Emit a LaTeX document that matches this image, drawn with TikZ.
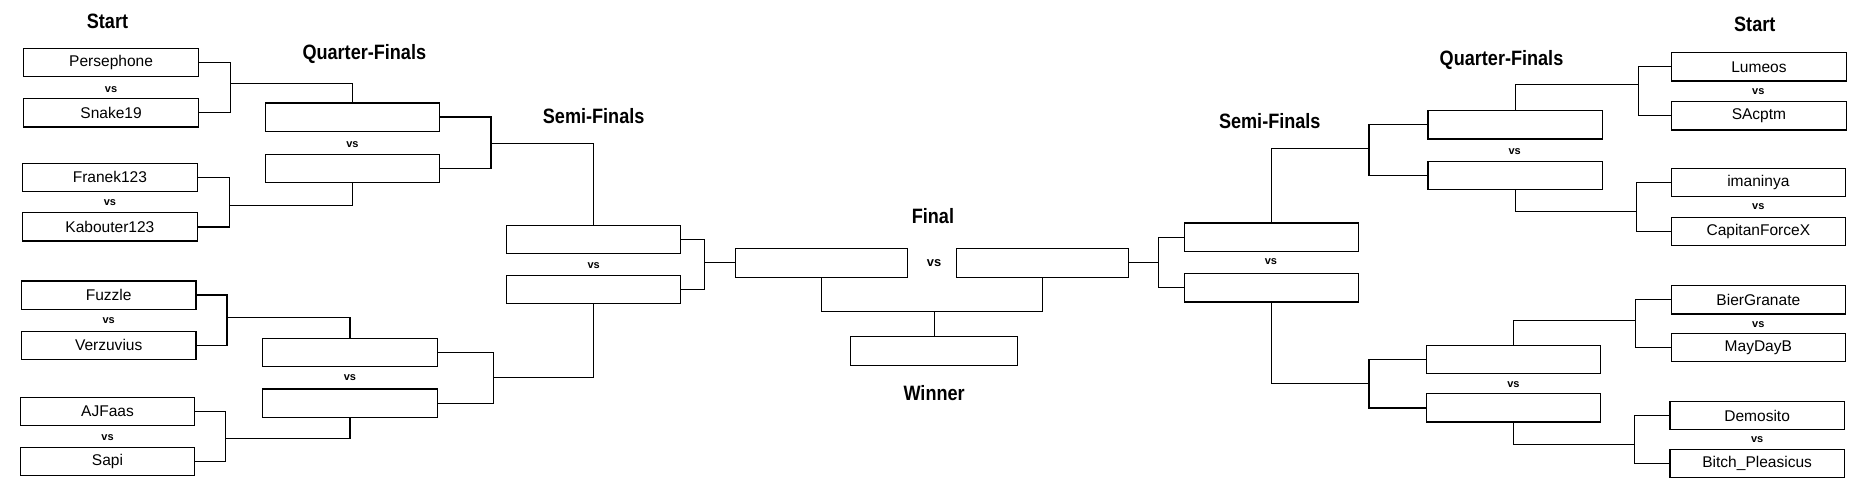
\documentclass[tikz,border=0pt]{standalone}
\usepackage{fontspec}
\setmainfont{Liberation Sans}
\newfontfamily\headfont[FakeStretch=0.87]{Liberation Sans}
\begin{document}
\begin{tikzpicture}[x=0.5pt,y=-0.5pt,
  every path/.style={line width=0.5pt},
  tbox/.style={draw,line width=0.5pt,minimum width=73pt,minimum height=11.8pt,inner sep=0pt,font=\fontsize{6.5}{7}\selectfont},
  fbox/.style={tbox,minimum width=72pt,minimum height=12pt},
  vslab/.style={font=\bfseries\fontsize{4.6}{5}\selectfont,inner sep=0pt},
  head/.style={font=\headfont\bfseries\fontsize{8.7}{9}\selectfont,inner sep=0pt},
  conn/.style={draw,line width=0.5pt}]
\useasboundingbox (0,0) rectangle (1568,408);
% headings
\node[head] (hstartL) at (90,18) {Start};
\node[head] (hqfL) at (305,45) {Quarter-Finals};
\node[head] (hsfL) at (497,97) {Semi-Finals};
\node[head] (hfin) at (781,181) {Final};
\node[head] (hwin) at (782,329) {Winner};
\node[head] (hsfR) at (1063,101) {Semi-Finals};
\node[head] (hqfR) at (1257,50) {Quarter-Finals};
\node[head] (hstartR) at (1469,20) {Start};
% left start
\node[tbox] (l1) at (93,52.5) {Persephone};
\node[tbox] (l2) at (93,94.5) {Snake19};
\node[tbox] (l3) at (92,148.5) {Franek123};
\node[tbox] (l4) at (92,190) {Kabouter123};
\node[tbox] (l5) at (91,247) {Fuzzle};
\node[tbox] (l6) at (91,289) {Verzuvius};
\node[tbox] (l7) at (90,344.5) {AJFaas};
\node[tbox] (l8) at (90,386.5) {Sapi};
\node[vslab] (vl1) at (93,75) {vs};
\node[vslab] (vl2) at (92,170) {vs};
\node[vslab] (vl3) at (91,268) {vs};
\node[vslab] (vl4) at (90,366) {vs};
% left QF
\node[tbox] (q1) at (295,98) {};
\node[tbox] (q2) at (295,141) {};
\node[tbox] (q3) at (293,295) {};
\node[tbox] (q4) at (293,337.5) {};
\node[vslab] (vq1) at (295,121) {vs};
\node[vslab] (vq2) at (293,316) {vs};
% left SF
\node[tbox] (s1) at (497,200.5) {};
\node[tbox] (s2) at (497,242.5) {};
\node[vslab] (vs1) at (497,222) {vs};
% final
\node[fbox] (fL) at (688,220) {};
\node[fbox] (fR) at (873,220) {};
\node[vslab,font=\bfseries\fontsize{5.4}{6}\selectfont] (vf) at (782,220) {vs};
\node[fbox,minimum width=70pt] (win) at (782,294) {};
% right SF
\node[tbox] (s3) at (1064.5,198.5) {};
\node[tbox] (s4) at (1064.5,241) {};
\node[vslab] (vs2) at (1064,219) {vs};
% right QF
\node[tbox] (q5) at (1268.5,104.5) {};
\node[tbox] (q6) at (1268.5,147) {};
\node[tbox] (q7) at (1267,301) {};
\node[tbox] (q8) at (1267,341.5) {};
\node[vslab] (vq3) at (1268,127) {vs};
\node[vslab] (vq4) at (1267,322) {vs};
% right start
\node[tbox] (r1) at (1472.5,56) {Lumeos};
\node[tbox] (r2) at (1472.5,97) {SAcptm};
\node[tbox] (r3) at (1472,153) {imaninya};
\node[tbox] (r4) at (1472,194) {CapitanForceX};
\node[tbox] (r5) at (1472,251) {BierGranate};
\node[tbox] (r6) at (1472,291) {MayDayB};
\node[tbox] (r7) at (1471,348) {Demosito};
\node[tbox] (r8) at (1471,388) {Bitch\_Pleasicus};
\node[vslab] (vr1) at (1472,77) {vs};
\node[vslab] (vr2) at (1472,173) {vs};
\node[vslab] (vr3) at (1472,272) {vs};
\node[vslab] (vr4) at (1471,368) {vs};
% junctions
\coordinate (jl1) at (193,70);
\coordinate (jl2) at (192,172);
\coordinate (jl3) at (190,266);
\coordinate (jl4) at (189,367);
\coordinate (jq1) at (411,120);
\coordinate (jq2) at (413,316);
\coordinate (js1) at (590,220);
\coordinate (js2) at (970,220);
\coordinate (jq3) at (1146,124);
\coordinate (jq4) at (1146,321);
\coordinate (jr1) at (1372,71);
\coordinate (jr2) at (1370,177);
\coordinate (jr3) at (1369,268);
\coordinate (jr4) at (1368,372);
\coordinate (jf) at (782,261);
% left connectors
\draw[conn] (l1.east) -| (jl1) |- (l2.east);
\draw[conn] (jl1) -| (q1.north);
\draw[conn] (l3.east) -| (jl2) |- (l4.east);
\draw[conn] (jl2) -| (q2.south);
\draw[conn] (l5.east) -| (jl3) |- (l6.east);
\draw[conn] (jl3) -| (q3.north);
\draw[conn] (l7.east) -| (jl4) |- (l8.east);
\draw[conn] (jl4) -| (q4.south);
\draw[conn] (q1.east) -| (jq1) |- (q2.east);
\draw[conn] (jq1) -| (s1.north);
\draw[conn] (q3.east) -| (jq2) |- (q4.east);
\draw[conn] (jq2) -| (s2.south);
\draw[conn] (s1.east) -| (js1) |- (s2.east);
\draw[conn] (js1) -- (fL.west);
% final
\draw[conn] (fL.south) |- (jf) -| (fR.south);
\draw[conn] (jf) -- (win.north);
% right connectors
\draw[conn] (s3.west) -| (js2) |- (s4.west);
\draw[conn] (js2) -- (fR.east);
\draw[conn] (q5.west) -| (jq3) |- (q6.west);
\draw[conn] (jq3) -| (s3.north);
\draw[conn] (q7.west) -| (jq4) |- (q8.west);
\draw[conn] (jq4) -| (s4.south);
\draw[conn] (r1.west) -| (jr1) |- (r2.west);
\draw[conn] (jr1) -| (q5.north);
\draw[conn] (r3.west) -| (jr2) |- (r4.west);
\draw[conn] (jr2) -| (q6.south);
\draw[conn] (r5.west) -| (jr3) |- (r6.west);
\draw[conn] (jr3) -| (q7.north);
\draw[conn] (r7.west) -| (jr4) |- (r8.west);
\draw[conn] (jr4) -| (q8.south);
\end{tikzpicture}
\end{document}
